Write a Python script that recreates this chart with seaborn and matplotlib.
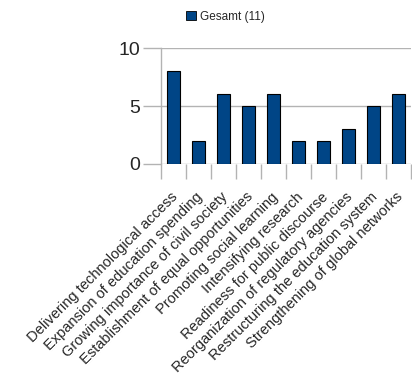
import numpy as np
import pandas as pd
import matplotlib
matplotlib.use("Agg")
import matplotlib.pyplot as plt
import matplotlib.transforms as mtrans
import seaborn as sns
from matplotlib.patches import Patch

sns.set_theme(style="white")
plt.rcParams['font.family'] = ['Liberation Sans', 'DejaVu Sans']

# data
categories = [
    "Delivering technological access",
    "Expansion of education spending",
    "Growing importance of civil society",
    "Establishment of equal opportunities",
    "Promoting social learning",
    "Intensifying research",
    "Readiness for public discourse",
    "Reorganization of regulatory agencies",
    "Restructuring the education system",
    "Strengthening of global networks",
]
values = [8, 2, 6, 5, 6, 2, 2, 3, 5, 6]
series_name = "Gesamt (11)"
bar_color = "#004586"
grid_color = "#b3b3b3"

df = pd.DataFrame({"category": categories, "value": values})

fig = plt.figure(figsize=(4.12, 3.82), dpi=100)
ax = fig.add_axes([0.391, 0.571, 0.607, 0.303])

sns.barplot(data=df, x="category", y="value", color=bar_color, saturation=1,
            width=0.53, edgecolor="black", linewidth=0.8, ax=ax)

ax.set_ylim(0, 10)
ax.set_xlim(-0.5, len(categories) - 0.5)
ax.set_yticks([0, 5, 10])
ax.yaxis.grid(True, color=grid_color, linewidth=1)
ax.set_axisbelow(True)
ax.set_xlabel("")
ax.set_ylabel("")

for s in ["top", "right", "bottom"]:
    ax.spines[s].set_visible(False)
ax.spines["left"].set_color(grid_color)
ax.spines["left"].set_linewidth(1)

ax.tick_params(axis="y", which="major", length=13, width=1, color=grid_color,
               labelsize=14, pad=2, left=True)
ax.tick_params(axis="x", which="major", length=0, labelsize=10.5, pad=15)
ax.set_xticks(np.arange(-0.5, len(categories), 1), minor=True)
ax.tick_params(axis="x", which="minor", length=11, width=1, color=grid_color,
               bottom=True)
shift = mtrans.ScaledTranslation(-3 / 100, -5 / 100, fig.dpi_scale_trans)
for lbl in ax.get_xticklabels():
    lbl.set_rotation(45)
    lbl.set_ha("right")
    lbl.set_rotation_mode("anchor")
    lbl.set_transform(lbl.get_transform() + shift)

fig.legend(handles=[Patch(facecolor=bar_color, edgecolor="black", linewidth=0.6,
                          label=series_name)],
           loc="upper left", bbox_to_anchor=(0.425, 1.0), frameon=False,
           fontsize=8.5, handlelength=0.9, handleheight=0.9, handletextpad=0.3)

fig.savefig("out.png", dpi=100)
